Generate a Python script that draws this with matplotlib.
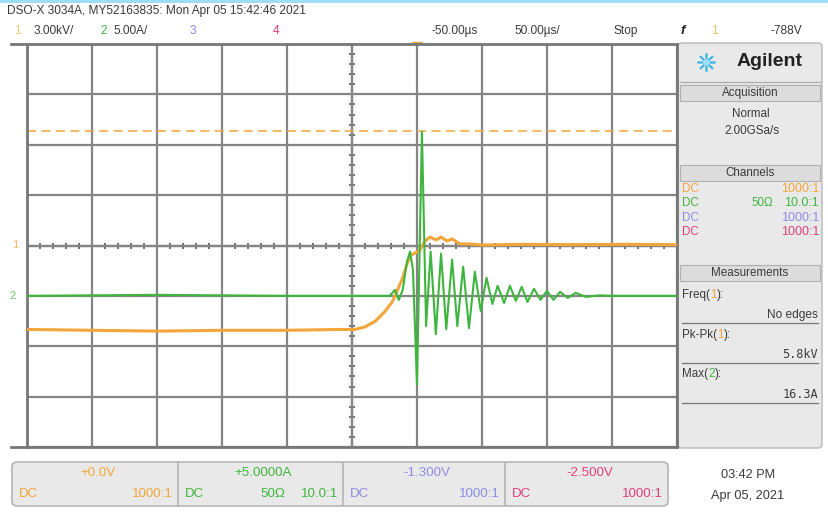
import matplotlib
matplotlib.use("Agg")
import matplotlib.pyplot as plt
from matplotlib.patches import Rectangle, FancyBboxPatch

plt.rcParams['font.family'] = ['Liberation Sans', 'DejaVu Sans']

# ---------------- data ----------------
# Channel 1: voltage, kV ; time in microseconds relative to trigger
ch1_time = [-300, -250, -200, -150, -100, -60, -48, -40, -32, -25, -19, -15, -11, -8, -4.6,
            -1.5, 2.3, 6.2, 10, 14.6, 18.5, 23, 27, 33, 41, 50, 80, 120, 160, 200]
ch1_kv = [-5.0, -5.05, -5.1, -5.05, -5.05, -5.0, -5.0, -4.85, -4.5, -3.96, -3.36, -2.65, -1.93, -1.16, -0.57,
          -0.45, -0.27, 0.27, 0.5, 0.33, 0.5, 0.27, 0.39, 0.09, 0.09, 0.03, 0.07, 0.05, 0.07, 0.05]

# Channel 2: current, A
ch2_time = [-300, -200, -100, -21, -17, -14, -11, -7.7, -5.4, -3.1, 0, 3.8, 7, 10.5, 14.5,
            18.5, 22.5, 27, 31, 35.5, 40, 44.5, 49, 53.5, 58, 62, 67, 71.5, 76, 80.5,
            85, 90, 95, 100, 105, 110, 116, 122, 130, 140, 150, 200]
ch2_amp = [0, 0.1, 0, 0, 0.6, -0.4, 0.6, 3.4, 4.4, 2.6, -8.8, 16.3, -3.0, 4.4, -3.8,
           4.2, -3.3, 3.6, -3.0, 2.9, -3.2, 2.4, -1.5, 1.8, -0.8, 1.0, -0.7, 1.0, -0.5, 0.9,
           -0.6, 0.7, -0.4, 0.5, -0.4, 0.4, -0.2, 0.3, -0.1, 0.05, 0.0, 0.0]

ch1_scale_kv = 3.0       # kV / div
ch2_scale_a = 5.0        # A / div
ch2_offset_a = 5.0       # A at screen centre
time_per_div = 50.0      # us / div
time_delay = -50.0       # us at screen centre
level_line_kv = 6.8      # dashed orange level line

header_line1 = "DSO-X 3034A, MY52163835: Mon Apr 05 15:42:46 2021"

ORANGE = "#f2a63a"
GREEN = "#3fb53f"
BLUE = "#8c8ce6"
PINK = "#e0407a"
GRID = "#858585"
TXT = "#3a3a3a"

W, H = 829, 513
fig = plt.figure(figsize=(W / 100, H / 100), dpi=100)
fig.patch.set_facecolor("white")

# ---------------- overlay (pixel coordinates) ----------------
ov = fig.add_axes([0, 0, 1, 1])
ov.set_xlim(0, W)
ov.set_ylim(H, 0)
ov.axis("off")

# top cyan strip
ov.add_patch(Rectangle((0, 0), W, 2.5, color="#9fdcf7", lw=0))

# ---------------- scope screen ----------------
L, T, R, B = 27, 44, 677, 447
ax1 = fig.add_axes([L / W, 1 - B / H, (R - L) / W, (B - T) / H])
ax1.set_xlim(time_delay - 5 * time_per_div, time_delay + 5 * time_per_div)
ax1.set_ylim(-4 * ch1_scale_kv, 4 * ch1_scale_kv)
ax1.set_xticks([time_delay + k * time_per_div for k in range(-5, 6)])
ax1.set_yticks([k * ch1_scale_kv for k in range(-4, 5)])
ax1.grid(True, color=GRID, lw=1.6)
ax1.tick_params(length=0, labelleft=False, labelbottom=False)
for s in ax1.spines.values():
    s.set_color("#777777")
    s.set_linewidth(2)

# centre axes with minor ticks
ax1.axhline(0, color="#6a6a6a", lw=1.6, zorder=1)
ax1.axvline(time_delay, color="#6a6a6a", lw=1.6, zorder=1)
minor_x = [time_delay - 5 * time_per_div + k * time_per_div / 5 for k in range(51)]
ax1.plot(minor_x, [0] * len(minor_x), ls="none", marker="|", ms=5, mew=1.2, color="#5a5a5a", zorder=1)
minor_y = [-4 * ch1_scale_kv + k * ch1_scale_kv / 5 for k in range(41)]
ax1.plot([time_delay] * len(minor_y), minor_y, ls="none", marker="_", ms=5, mew=1.2, color="#5a5a5a", zorder=1)

# level line
ax1.axhline(level_line_kv, color=ORANGE, lw=1.3, ls=(0, (5, 3)), alpha=0.85, zorder=2)

# channel 1 trace
ax1.plot(ch1_time, ch1_kv, color=ORANGE, lw=2.2, zorder=3)

# channel 2 trace
ax2 = ax1.twinx()
ax2.set_ylim(ch2_offset_a - 4 * ch2_scale_a, ch2_offset_a + 4 * ch2_scale_a)
ax2.set_yticks([])
for s in ax2.spines.values():
    s.set_visible(False)
ax2.plot(ch2_time, ch2_amp, color=GREEN, lw=1.5, zorder=4)

# trigger marker and centre marker
ov.plot([417], [47], marker="v", ms=7, color=ORANGE, clip_on=False)
ov.plot([352], [47], marker="v", ms=5, color="#555555", clip_on=False)
# ground markers
ov.text(15, 245, "1", color=ORANGE, fontsize=8, ha="center", va="center", alpha=0.8)
ov.text(13, 296, "2", color=GREEN, fontsize=8, ha="center", va="center", alpha=0.8)
# frame extension
ov.plot([11, L], [T, T], color="#777777", lw=2)
ov.plot([11, L], [B, B], color="#777777", lw=2)

# ---------------- header ----------------
hfs = 8.6
ov.text(7, 11, header_line1, fontsize=hfs, color=TXT, va="center", ha="left")
ov.text(14, 31, "1", fontsize=hfs, color="#e0d070", va="center")
ov.text(34, 31, "3.00kV/", fontsize=hfs, color=TXT, va="center")
ov.text(100, 31, "2", fontsize=hfs, color=GREEN, va="center")
ov.text(114, 31, "5.00A/", fontsize=hfs, color=TXT, va="center")
ov.text(190, 31, "3", fontsize=hfs, color=BLUE, va="center")
ov.text(273, 31, "4", fontsize=hfs, color=PINK, va="center")
ov.text(455, 31, "-50.00\u00b5s", fontsize=hfs, color=TXT, va="center", ha="center")
ov.text(537, 31, "50.00\u00b5s/", fontsize=hfs, color=TXT, va="center", ha="center")
ov.text(626, 31, "Stop", fontsize=hfs, color=TXT, va="center", ha="center")
ov.text(683, 31, "f", fontsize=hfs + 1, color="#222222", va="center", ha="center", style="italic", weight="bold")
ov.text(714, 31, "1", fontsize=hfs, color="#e8c060", va="center", ha="center")
ov.text(802, 31, "-788V", fontsize=hfs, color=TXT, va="center", ha="right")

# ---------------- right panel ----------------
ov.add_patch(FancyBboxPatch((R + 1, T - 1), 822 - R - 1, B - T + 2, boxstyle="round,pad=0,rounding_size=4",
                            facecolor="#e9e9e9", edgecolor="#b8b8b8", lw=1))
# logo
ov.plot([706], [62], marker=(8, 2, 0), ms=13, color="#3fb6e8", mew=1.2)
ov.plot([706], [62], marker="o", ms=4, color="#9fe0ff")
ov.text(737, 62, "Agilent", fontsize=14, weight="bold", color="#222222", va="center", ha="left")
ov.plot([R + 3, 820], [82, 82], color="#b0b0b0", lw=1)

pfs = 8.4


def section(y, label):
    ov.add_patch(Rectangle((R + 3, y - 8), 820 - R - 3, 16, facecolor="#dcdcdc", edgecolor="#b0b0b0", lw=0.8))
    ov.text(750, y, label, fontsize=pfs, color=TXT, ha="center", va="center")


section(93, "Acquisition")
ov.text(751, 114, "Normal", fontsize=pfs, color=TXT, ha="center", va="center")
ov.text(752, 131, "2.00GSa/s", fontsize=pfs, color=TXT, ha="center", va="center")
section(173, "Channels")
rows = [(189, ORANGE, "", "1000:1"), (203, GREEN, "50\u03a9", "10.0:1"),
        (218, BLUE, "", "1000:1"), (232, PINK, "", "1000:1")]
for y, c, mid, right in rows:
    ov.text(682, y, "DC", fontsize=pfs, color=c, va="center", ha="left")
    if mid:
        ov.text(762, y, mid, fontsize=pfs, color=c, va="center", ha="center")
    ov.text(819, y, right, fontsize=pfs + 0.6, color=c, va="center", ha="right")
section(273, "Measurements")
meas = [(295, "Freq(", "1", ORANGE, 315, "No edges"),
        (335, "Pk-Pk(", "1", ORANGE, 355, "5.8kV"),
        (374, "Max(", "2", GREEN, 395, "16.3A")]
for y, lab, ch, c, y2, val in meas:
    t = ov.text(682, y, lab, fontsize=pfs, color=TXT, va="center", ha="left")
    t2 = ov.annotate(ch, xycoords=t, xy=(1, 0.5), va="center", ha="left", fontsize=pfs, color=c)
    ov.annotate("):", xycoords=t2, xy=(1, 0.5), va="center", ha="left", fontsize=pfs, color=TXT)
    ov.text(818, y2, val, fontsize=8.6, color=TXT, va="center", ha="right",
            family=["DejaVu Sans Mono", "DejaVu Sans"] if val[0].isdigit() else None)
    ov.plot([682, 818], [y2 + 8, y2 + 8], color="#777777", lw=0.9)

# ---------------- bottom boxes ----------------
ov.add_patch(FancyBboxPatch((12, 462), 656, 44, boxstyle="round,pad=0,rounding_size=5",
                            facecolor="#e9e9e9", edgecolor="#b5b5b5", lw=1.2))
for xd in [178, 343, 505]:
    ov.plot([xd, xd], [462, 506], color="#b5b5b5", lw=1.2)
bfs = 9.6
boxes = [(12, 178, "+0.0V", ORANGE, "", "1000:1"),
         (178, 343, "+5.0000A", GREEN, "50\u03a9", "10.0:1"),
         (343, 505, "-1.300V", BLUE, "", "1000:1"),
         (505, 668, "-2.500V", PINK, "", "1000:1")]
for x0, x1, off, c, mid, right in boxes:
    ov.text((x0 + x1) / 2 + 3, 473, off, fontsize=bfs, color=c, ha="center", va="center")
    ov.text(x0 + 7, 494, "DC", fontsize=bfs, color=c, ha="left", va="center")
    if mid:
        ov.text((x0 + x1) / 2 + 12, 494, mid, fontsize=bfs, color=c, ha="center", va="center")
    ov.text(x1 - 5, 494, right, fontsize=bfs, color=c, ha="right", va="center")

ov.text(748, 475, "03:42 PM", fontsize=9.2, color=TXT, ha="center", va="center")
ov.text(748, 496, "Apr 05, 2021", fontsize=9.2, color=TXT, ha="center", va="center")

fig.savefig("out.png", dpi=100)
